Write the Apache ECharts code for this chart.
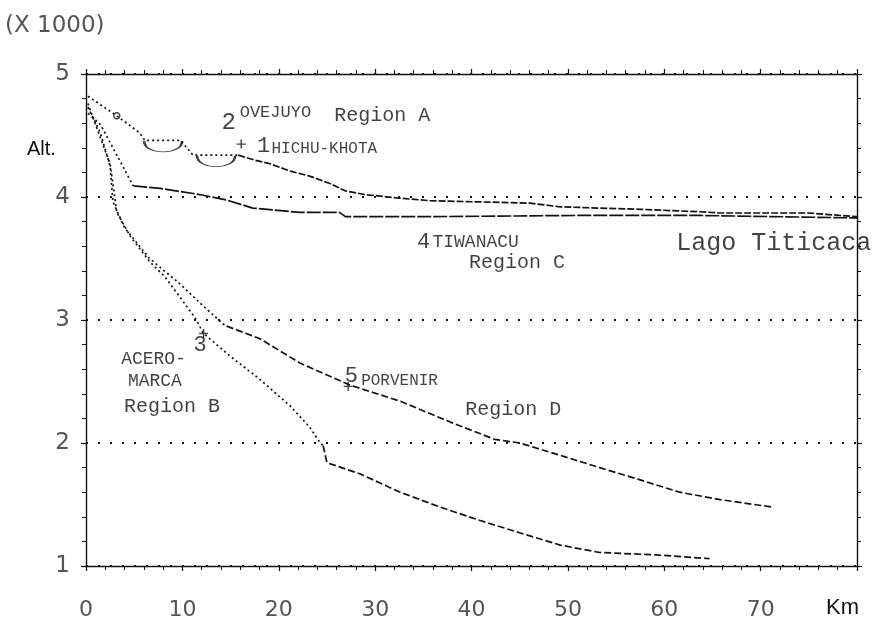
<!DOCTYPE html>
<html>
<head>
<meta charset="utf-8">
<script src="https://cdn.jsdelivr.net/npm/echarts@6/dist/echarts.min.js"></script>
<style>
  html, body { margin: 0; padding: 0; background: #fff; }
  #chart { width: 877px; height: 637px; }
</style>
</head>
<body>
<div id="chart"></div>
<script>
// altitude profiles, km vs altitude (x1000 m)
const xTicks = [0, 10, 20, 30, 40, 50, 60, 70, 80];
const yTicks = [1, 2, 3, 4, 5];

// Region A: Ovejuyo -> Hichu-Khota -> lake
const regionAUpper = [[0.2, 4.82], [3.2, 4.66], [5.6, 4.52], [6.1, 4.46], [9.8, 4.46], [10.8, 4.37], [11.1, 4.34], [15.8, 4.34]];
const regionALower = [[15.8, 4.34], [17.5, 4.30], [19.1, 4.27], [21.2, 4.21], [23.2, 4.17], [25.3, 4.11], [26.9, 4.05], [28.9, 4.02],
  [32.6, 3.99], [35.7, 3.97], [40.9, 3.96], [46.1, 3.95], [49.2, 3.92], [53.3, 3.91], [57.5, 3.90], [63.7, 3.88], [65.8, 3.87], [74.9, 3.87], [80, 3.84]];
// Region C: Tiwanacu
const regionCUpper = [[0.2, 4.68], [1.5, 4.59], [3.0, 4.37], [4.9, 4.09]];
const regionCLower = [[4.9, 4.09], [7.7, 4.07], [11.8, 4.02], [14.6, 3.975], [17.3, 3.91], [22.2, 3.875], [26.3, 3.875], [26.9, 3.84],
  [35.2, 3.84], [51.2, 3.85], [63.7, 3.85], [80, 3.83]];
// Region B: Acero-Marca
const regionBUpper = [[0.2, 4.76], [1.5, 4.48], [2.5, 4.27], [3.2, 3.875], [4.6, 3.68], [6.6, 3.475], [8.2, 3.35], [9.8, 3.18],
  [11.3, 3.02], [12.2, 2.89], [14.9, 2.71], [18.0, 2.52], [21.2, 2.30], [23.2, 2.13], [24.3, 2.0], [24.6, 1.98]];
const regionBLower = [[24.6, 1.98], [25.0, 1.84], [28.4, 1.75], [32.6, 1.60], [36.7, 1.48], [40.9, 1.37], [45.0, 1.27], [49.2, 1.17],
  [53.3, 1.11], [59.2, 1.09], [64.7, 1.06]];
// Region D: Porvenir
const regionDUpper = [[0.2, 4.73], [1.5, 4.52], [2.5, 4.25], [2.8, 3.96], [4.0, 3.75], [6.6, 3.50], [9.8, 3.29], [11.8, 3.14], [14.2, 2.97], [14.6, 2.95]];
const regionDLower = [[14.6, 2.95], [18.0, 2.85], [22.2, 2.65], [27.4, 2.47], [32.6, 2.34], [37.8, 2.17], [42.4, 2.03], [45.0, 2.0],
  [49.2, 1.90], [53.3, 1.80], [57.5, 1.70], [61.6, 1.60], [65.8, 1.54], [71.1, 1.48]];

// small lakes under the Region A profile: [x centre, y top]
const bowls = [[8.0, 4.46], [13.5, 4.34]];
const crossMarks = [[16.1, 4.43], [12.2, 2.89], [27.2, 2.46]];
const circleMarks = [[3.2, 4.66]];
const tickMarks = [[35.2, 3.84]];

// annotations: [text, x, y, size]
const notes = [
  ['2', 14.1, 4.60, 24], ['OVEJUYO', 16.0, 4.68, 17], ['Region A', 25.8, 4.66, 20],
  ['1', 17.8, 4.41, 22], ['HICHU-KHOTA', 19.3, 4.39, 16],
  ['4', 34.4, 3.63, 22], ['TIWANACU', 36.0, 3.63, 18], ['Region C', 39.8, 3.46, 20],
  ['ACERO-', 3.7, 2.68, 18], ['3', 11.2, 2.79, 22], ['MARCA', 4.4, 2.50, 18], ['Region B', 4.0, 2.29, 20],
  ['5', 26.9, 2.54, 22], ['PORVENIR', 28.6, 2.50, 16], ['Region D', 39.4, 2.27, 20],
  ['Lago Titicaca', 61.3, 3.62, 25]
];

const mono = '"Liberation Mono", "DejaVu Sans Mono", monospace';
const sans = '"DejaVu Sans", "Liberation Sans", sans-serif';
const ink = '#111';

const chart = echarts.init(document.getElementById('chart'));

function lineSeries(data, dash) {
  return {
    type: 'line', data: data, showSymbol: false, silent: true,
    lineStyle: { color: ink, width: 1.7, type: dash }
  };
}

function axisBase(extra) {
  return Object.assign({
    type: 'value',
    axisLine: { show: true, onZero: false, lineStyle: { color: ink, width: 1.4 } },
    axisTick: { show: true, inside: false, length: 5, lineStyle: { color: ink, width: 1.2 } },
    minorTick: { show: true, splitNumber: 5, length: 4, lineStyle: { color: ink, width: 1 } },
    splitLine: { show: false }
  }, extra);
}

const noteData = notes.map(n => ({
  value: [n[1], n[2]],
  label: { formatter: n[0], fontSize: n[3] }
}));

const option = {
  animation: false,
  backgroundColor: '#fff',
  grid: { left: 86, right: 20, top: 74, bottom: 71 },
  xAxis: [
    axisBase({
      min: 0, max: 80, interval: 10, position: 'bottom',
      axisLabel: {
        margin: 33, color: '#555', fontSize: 22, fontFamily: sans,
        formatter: v => (v === 80 ? '' : String(v))
      }
    }),
    axisBase({ min: 0, max: 80, interval: 10, position: 'top', axisLabel: { show: false } })
  ],
  yAxis: [
    axisBase({
      min: 1, max: 5, interval: 1, position: 'left',
      axisLabel: { margin: 16, color: '#555', fontSize: 23, fontFamily: sans },
      splitLine: { show: true, lineStyle: { color: ink, width: 2, type: [2, 10] } }
    }),
    axisBase({ min: 1, max: 5, interval: 1, position: 'right', axisLabel: { show: false } })
  ],
  graphic: [
    { type: 'text', left: 5, top: 15, style: { text: '(X 1000)', fontSize: 23, fontFamily: sans, fill: '#555' } },
    { type: 'text', left: 27, top: 139, style: { text: 'Alt.', fontSize: 20, fontFamily: '"Liberation Sans", Arial', fill: ink } },
    { type: 'text', left: 826, top: 597, style: { text: 'Km', fontSize: 22, fontFamily: '"Liberation Sans", Arial', fill: ink } }
  ],
  series: [
    lineSeries(regionAUpper, [2, 3]),
    lineSeries(regionALower, [7, 2]),
    lineSeries(regionCUpper, [2, 3]),
    lineSeries(regionCLower, [14, 2]),
    lineSeries(regionBUpper, [2, 3]),
    lineSeries(regionBLower, [7, 3]),
    lineSeries(regionDUpper, [2, 3]),
    lineSeries(regionDLower, [7, 3]),
    {
      type: 'scatter', data: bowls, silent: true,
      symbol: 'path://M0,0 C0,14 40,14 40,0', symbolSize: [38, 11], symbolOffset: [0, 6],
      itemStyle: { color: 'transparent', borderColor: ink, borderWidth: 1.4 }
    },
    {
      type: 'scatter', data: crossMarks, silent: true,
      symbol: 'path://M5,0 L5,10 M0,5 L10,5', symbolSize: 9,
      itemStyle: { color: 'transparent', borderColor: ink, borderWidth: 1.4 }
    },
    {
      type: 'scatter', data: circleMarks, silent: true, symbol: 'circle', symbolSize: 6,
      itemStyle: { color: '#fff', borderColor: ink, borderWidth: 1.4 }
    },
    {
      type: 'scatter', data: tickMarks, silent: true,
      symbol: 'path://M0,0 L0,14', symbolSize: [2, 14],
      itemStyle: { color: 'transparent', borderColor: ink, borderWidth: 1.6 }
    },
    {
      type: 'scatter', data: noteData, silent: true, symbol: 'circle', symbolSize: 1,
      itemStyle: { color: 'transparent' },
      label: {
        show: true, position: [0, 0], align: 'left', verticalAlign: 'middle',
        color: ink, fontFamily: mono
      }
    }
  ]
};

chart.setOption(option);
</script>
</body>
</html>
